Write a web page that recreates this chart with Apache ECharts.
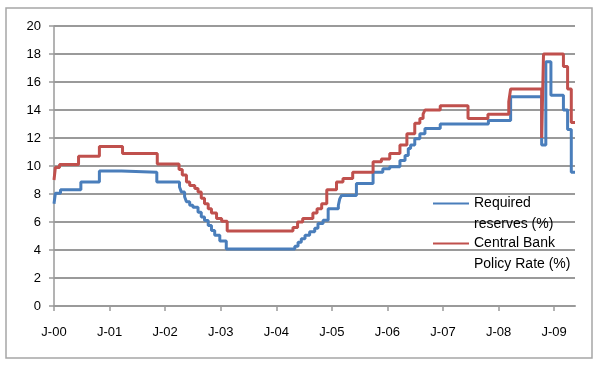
<!DOCTYPE html>
<html>
<head>
<meta charset="utf-8">
<script src="https://cdn.jsdelivr.net/npm/echarts@6/dist/echarts.min.js"></script>
<style>
html,body{margin:0;padding:0;background:#fff;}
#chart{width:600px;height:375px;}
</style>
</head>
<body>
<div id="chart"></div>
<script>
// Months since Jan 2000 at which each series changes, and the new value
const reservesMonths = [0, 0.3, 1.4, 5.8, 9.8, 14.6, 22.2,
  27.1, 27.5, 28.2, 28.6, 29.3, 30.0, 31.1, 31.8, 32.5, 33.3, 34.0, 34.7, 35.8, 37.2,
  52.0, 52.7, 53.4, 54.2, 55.2, 56.3, 57.0, 58.1, 59.2, 61.4, 61.7, 62.1, 65.3, 68.9, 71.0, 72.5, 74.7, 75.8, 76.5, 77.0, 77.9, 79.0, 80.1, 83.4, 93.8, 98.6,
  105.3, 106.2, 107.3, 110.0, 110.9, 111.7, 112.5];
const reservesValues = [7.3, 8.05, 8.3, 8.85, 9.65, 9.55, 8.85,
  8.5, 8.15, 7.8, 7.45, 7.2, 7.05, 6.7, 6.35, 6.1, 5.75, 5.4, 5.05, 4.65, 4.08,
  4.26, 4.55, 4.8, 5.05, 5.3, 5.55, 5.9, 6.12, 6.95, 7.2, 7.65, 7.9, 8.75, 9.55, 9.8, 9.95, 10.4, 10.75, 11.25, 11.5, 11.95, 12.3, 12.67, 13.0, 13.25, 14.95,
  11.5, 17.45, 15.05, 14.0, 12.6, 9.55, 9.55];

const policyMonths = [0, 0.3, 1.2, 5.3, 9.8, 14.8, 22.3,
  27.0, 27.7, 28.6, 29.3, 30.4, 31.1, 31.8, 32.5, 33.3, 34.0, 35.1, 36.2, 37.4,
  51.6, 52.6, 53.7, 55.9, 56.8, 57.8, 58.9, 61.0, 62.4, 64.5, 68.9, 70.7, 72.5, 74.7, 76.2, 77.9, 79.0, 79.7, 80.1, 83.4, 89.4, 93.7, 98.2, 98.6,
  105.3, 105.7, 110.0, 110.9, 111.7, 112.5];
const policyValues = [9.0, 9.9, 10.1, 10.7, 11.4, 10.9, 10.15,
  9.75, 9.35, 8.85, 8.6, 8.4, 8.15, 7.7, 7.3, 6.95, 6.65, 6.25, 6.05, 5.35,
  5.6, 6.0, 6.25, 6.65, 6.95, 7.3, 8.3, 8.85, 9.1, 9.55, 10.3, 10.5, 10.9, 11.5, 12.3, 13.05, 13.4, 13.7, 14.0, 14.3, 13.4, 13.7, 14.6, 15.5,
  12.0, 18.0, 17.1, 15.5, 13.1, 13.1];

const tickMonths = [0, 12, 24, 36, 48, 60, 72, 84, 96, 108];
const tickLabels = ['J-00', 'J-01', 'J-02', 'J-03', 'J-04', 'J-05', 'J-06', 'J-07', 'J-08', 'J-09'];
const seriesNames = ['Required reserves (%)', 'Central Bank Policy Rate (%)'];
const legendLines = [['Required', 'reserves (%)'], ['Central Bank', 'Policy Rate (%)']];

const chart = echarts.init(document.getElementById('chart'), null, {renderer: 'canvas'});
const FONT = '"Liberation Sans", Arial, sans-serif';
const GRID = '#9a9a9a';

chart.setOption({
  animation: false,
  backgroundColor: '#fff',
  graphic: [{
    type: 'rect',
    shape: {x: 6, y: 8, width: 586, height: 350},
    style: {fill: null, stroke: '#a6a6a6', lineWidth: 1.5},
    silent: true
  }],
  grid: {left: 54, right: 25, top: 26, bottom: 69},
  legend: {
    orient: 'vertical',
    left: 433,
    top: 172,
    padding: 0,
    itemWidth: 36,
    itemHeight: 12,
    itemGap: -23,
    icon: 'path://M0,0 L36,0 L36,2 L0,2 Z',
    textStyle: {fontFamily: FONT, fontSize: 14, color: '#000', lineHeight: 21},
    formatter: function (name) {
      const i = seriesNames.indexOf(name);
      return '\n' + legendLines[i].join('\n');
    },
    data: seriesNames
  },
  xAxis: {
    type: 'value',
    min: 0,
    max: 112.5,
    interval: 12,
    splitLine: {show: false},
    axisLine: {show: true, lineStyle: {color: GRID, width: 2}},
    axisTick: {show: true, length: 5, lineStyle: {color: GRID, width: 1.5}, customValues: tickMonths},
    axisLabel: {
      customValues: tickMonths,
      margin: 20,
      fontFamily: FONT, fontSize: 13, color: '#000',
      formatter: function (v) { return tickLabels[tickMonths.indexOf(v)] || ''; }
    }
  },
  yAxis: {
    type: 'value',
    min: 0,
    max: 20,
    interval: 2,
    axisLine: {show: true, lineStyle: {color: GRID, width: 1.5}},
    axisTick: {show: true, length: 5, lineStyle: {color: GRID, width: 1.5}},
    splitLine: {show: true, lineStyle: {color: GRID, width: 2}},
    axisLabel: {margin: 13, fontFamily: FONT, fontSize: 13, color: '#000'}
  },
  series: [
    {
      name: seriesNames[0],
      type: 'line',
      step: 'end',
      symbol: 'none',
      color: '#4A7EBB',
      lineStyle: {width: 3, color: '#4A7EBB'},
      data: reservesMonths.map((m, i) => [m, reservesValues[i]])
    },
    {
      name: seriesNames[1],
      type: 'line',
      step: 'end',
      symbol: 'none',
      color: '#C0504D',
      lineStyle: {width: 3, color: '#C0504D'},
      data: policyMonths.map((m, i) => [m, policyValues[i]])
    }
  ]
});
</script>
</body>
</html>
